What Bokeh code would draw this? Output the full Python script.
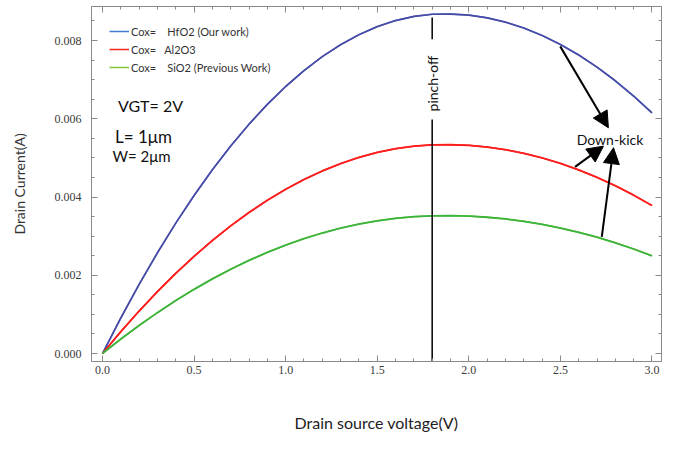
import math
from bokeh.plotting import figure
from bokeh.models import (Label, Arrow, NormalHead, Legend, LegendItem, LinearAxis,
                          SingleIntervalTicker, NumeralTickFormatter, Range1d,
                          CustomLabelingPolicy)
from bokeh.embed import file_html
from bokeh.resources import INLINE

# ---- data ----
vds = [0.0, 0.1, 0.2, 0.3, 0.4, 0.5, 0.6, 0.7, 0.8, 0.9, 1.0,
       1.1, 1.2, 1.3, 1.4, 1.5, 1.6, 1.7, 1.8, 1.9, 2.0,
       2.1, 2.2, 2.3, 2.4, 2.5, 2.6, 2.7, 2.8, 2.9, 3.0]

id_hfo2 = [0.0, 0.000908, 0.001766, 0.002574, 0.003332, 0.004039, 0.004697, 0.005304,
           0.005861, 0.006368, 0.006824, 0.007231, 0.007587, 0.007893, 0.008149, 0.008355,
           0.008510, 0.008616, 0.008671, 0.008676, 0.008650, 0.008580, 0.008470, 0.008320,
           0.008130, 0.007900, 0.007630, 0.007320, 0.006970, 0.006580, 0.006150]

id_al2o3 = [0.0, 0.000558, 0.001086, 0.001583, 0.002049, 0.002484, 0.002889, 0.003262,
            0.003605, 0.003916, 0.004197, 0.004447, 0.004666, 0.004854, 0.005012, 0.005138,
            0.005234, 0.005299, 0.005333, 0.005336, 0.005320, 0.005277, 0.005209, 0.005117,
            0.005000, 0.004859, 0.004692, 0.004502, 0.004287, 0.004047, 0.003782]

id_sio2 = [0.0, 0.000369, 0.000717, 0.001045, 0.001353, 0.001640, 0.001907, 0.002153,
           0.002380, 0.002585, 0.002771, 0.002936, 0.003080, 0.003205, 0.003308, 0.003392,
           0.003455, 0.003498, 0.003520, 0.003522, 0.003512, 0.003483, 0.003439, 0.003378,
           0.003301, 0.003207, 0.003098, 0.002972, 0.002830, 0.002671, 0.002497]

legend_labels = ["Cox=\u00a0\u00a0\u00a0 HfO2 (Our work)",
                 "Cox=\u00a0\u00a0 Al2O3",
                 "Cox=\u00a0\u00a0\u00a0 SiO2 (Previous Work)"]

pinch_off_v = 1.8

x_lo, x_hi = -0.060, 3.052
y_lo, y_hi = -0.000204, 0.008869

FONT = "Lato"
AX = "#8a8a8a"

p = figure(width=665, height=434, output_backend="svg", toolbar_location=None,
           x_range=Range1d(x_lo, x_hi), y_range=Range1d(y_lo, y_hi),
           min_border_left=91, min_border_right=0, min_border_top=6, min_border_bottom=73,
           x_axis_label="Drain source voltage(V)", y_axis_label="Drain Current(A)")
p.xgrid.visible = False
p.ygrid.visible = False
p.outline_line_color = AX
p.background_fill_color = "white"
p.border_fill_color = "white"

no_labels = CustomLabelingPolicy(code="""
    for (const i of indices) indices.unset(i)
    return indices
""")

def style_axis(ax, labels=True):
    ax.axis_line_color = AX
    ax.major_tick_line_color = AX
    ax.minor_tick_line_color = AX
    ax.major_tick_in = 6
    ax.major_tick_out = 0
    ax.minor_tick_in = 3
    ax.minor_tick_out = 0
    if labels:
        ax.major_label_text_font = "Liberation Serif"
        ax.major_label_text_font_size = "12px"
        ax.major_label_text_color = "#3a3a3a"
    else:
        ax.major_label_policy = no_labels
        ax.major_label_text_font_size = "1px"
        ax.major_label_standoff = 0

xa = p.xaxis[0]
xa.ticker = SingleIntervalTicker(interval=0.5, num_minor_ticks=5)
xa.formatter = NumeralTickFormatter(format="0.0")
style_axis(xa)
xa.major_label_standoff = 4
xa.axis_label_text_font = FONT
xa.axis_label_text_font_size = "16px"
xa.axis_label_text_font_style = "normal"
xa.axis_label_text_color = "#222222"
xa.axis_label_standoff = 36

ya = p.yaxis[0]
ya.ticker = SingleIntervalTicker(interval=0.002, num_minor_ticks=4)
ya.formatter = NumeralTickFormatter(format="0.000")
style_axis(ya)
ya.major_label_standoff = 10
ya.axis_label_text_font = FONT
ya.axis_label_text_font_size = "14px"
ya.axis_label_text_font_style = "normal"
ya.axis_label_text_color = "#333333"
ya.axis_label_standoff = 24

top = LinearAxis(ticker=SingleIntervalTicker(interval=0.5, num_minor_ticks=5),
                 formatter=NumeralTickFormatter(format="0"))
style_axis(top, labels=False)
p.add_layout(top, "above")
right = LinearAxis(ticker=SingleIntervalTicker(interval=0.002, num_minor_ticks=4),
                   formatter=NumeralTickFormatter(format="0"))
style_axis(right, labels=False)
p.add_layout(right, "right")

# legend swatch colours (drawn underneath the curves)
lg1 = p.line(vds, id_hfo2, line_color="#3f7fd0", line_width=1.5)
lg2 = p.line(vds, id_al2o3, line_color="#ee2a22", line_width=1.5)
lg3 = p.line(vds, id_sio2, line_color="#84c440", line_width=1.5)

# curves
p.line(vds, id_hfo2, line_color="#4a4aa6", line_width=1.7)
p.line(vds, id_al2o3, line_color="#ff1e1e", line_width=1.8)
p.line(vds, id_sio2, line_color="#3cb43c", line_width=1.8)

legend = Legend(items=[LegendItem(label=legend_labels[0], renderers=[lg1]),
                       LegendItem(label=legend_labels[1], renderers=[lg2]),
                       LegendItem(label=legend_labels[2], renderers=[lg3])],
                location="top_left", border_line_alpha=0, background_fill_alpha=0,
                label_text_font=FONT, label_text_font_size="11px", label_text_color="#333333",
                glyph_width=20, glyph_height=14, label_height=14, spacing=4,
                padding=8, margin=10, label_standoff=2)
p.add_layout(legend)

# pinch-off marker
p.line([pinch_off_v, pinch_off_v], [y_lo, 0.00598], line_color="black", line_width=1.5)
p.line([pinch_off_v, pinch_off_v], [0.00803, 0.00859], line_color="black", line_width=1.5)
p.add_layout(Label(x=pinch_off_v, y=0.0069, text="pinch-off", angle=math.pi / 2,
                   text_align="center", text_baseline="middle", text_font=FONT,
                   text_font_size="14px", text_color="#111111"))

# text annotations
for tx, ty, tt, fs in [(0.262, 0.00634, "VGT= 2V", "16px"),
                       (0.224, 0.00555, "L= 1\u03bcm", "17px"),
                       (0.213, 0.00506, "W= 2\u03bcm", "15px")]:
    p.add_layout(Label(x=tx, y=ty, text=tt, text_align="center", text_baseline="middle",
                       text_font=FONT, text_font_size=fs, text_color="#111111"))

p.add_layout(Label(x=2.771, y=0.00547, text="Down-kick", text_align="center",
                   text_baseline="middle", text_font=FONT, text_font_size="14px",
                   text_color="#111111"))

for xs, ys, xe, ye in [(2.499, 0.00785, 2.762, 0.00577),
                       (2.580, 0.00477, 2.735, 0.00530),
                       (2.726, 0.00298, 2.790, 0.00526)]:
    p.add_layout(Arrow(end=NormalHead(size=16, fill_color="black", line_color="black"),
                       x_start=xs, y_start=ys, x_end=xe, y_end=ye,
                       line_color="black", line_width=2))

open("out.html", "w").write(file_html(p, INLINE))
